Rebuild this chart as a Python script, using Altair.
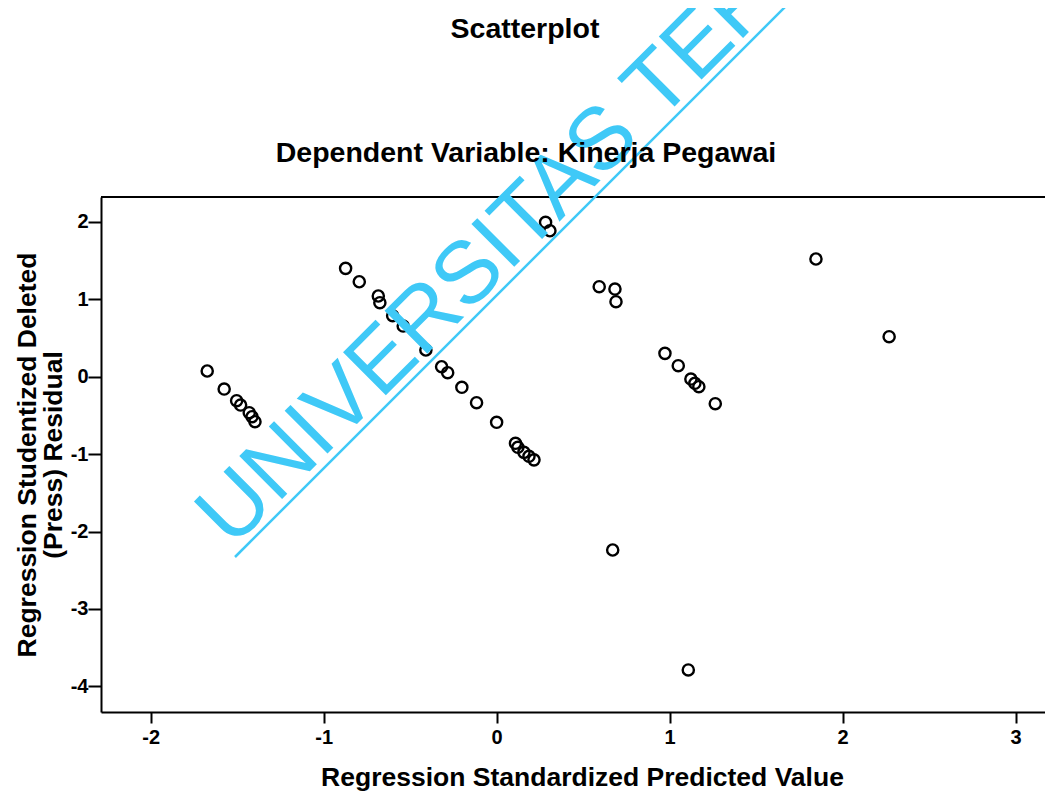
import altair as alt
import pandas as pd

# Regression Standardized Predicted Value
pred = [
    -1.673, -1.575, -1.503, -1.480, -1.430, -1.414, -1.397,
    -0.873, -0.794, -0.684, -0.675, -0.601, -0.540,
    -0.409, -0.318, -0.283, -0.201, -0.116, 0.000,
    0.109, 0.123, 0.158, 0.187, 0.216,
    0.283, 0.308,
    0.593, 0.684, 0.690,
    0.671,
    0.973, 1.050, 1.123, 1.146, 1.169, 1.264,
    1.108,
    1.846,
    2.269,
]
# Regression Studentized Deleted (Press) Residual
resid = [
    0.074, -0.159, -0.310, -0.366, -0.465, -0.517, -0.581,
    1.400, 1.227, 1.043, 0.956, 0.788, 0.655,
    0.345, 0.129, 0.052, -0.137, -0.336, -0.589,
    -0.860, -0.912, -0.977, -1.028, -1.074,
    1.995, 1.886,
    1.163, 1.133, 0.969,
    -2.239,
    0.302, 0.142, -0.030, -0.085, -0.129, -0.349,
    -3.789,
    1.521,
    0.517,
]
x_ticks = [-2, -1, 0, 1, 2, 3]
y_ticks = [-4, -3, -2, -1, 0, 1, 2]

title_text = "Scatterplot"
subtitle_text = "Dependent Variable: Kinerja Pegawai"
x_title = "Regression Standardized Predicted Value"
y_title = ["Regression Studentized Deleted", "(Press) Residual"]
watermark_text = "UNIVERSITAS TERBUKA"

df = pd.DataFrame({"pred": pred, "resid": resid})

W, H = 944, 515
FONT = "Liberation Sans"

points = alt.Chart(df).mark_point(
    shape="circle", filled=False, stroke="black", strokeWidth=2.4, size=125, opacity=1
).encode(
    x=alt.X("pred:Q",
            scale=alt.Scale(domain=[-2.287, 3.170], nice=False, zero=False),
            axis=alt.Axis(values=x_ticks, labelExpr="toString(datum.value)", grid=False,
                          domainColor="black", domainWidth=2,
                          tickColor="black", tickWidth=2, tickSize=11,
                          labelFont=FONT, labelFontWeight="bold", labelFontSize=20,
                          labelColor="black", labelPadding=4,
                          title=x_title, titleFont=FONT, titleFontWeight="bold",
                          titleFontSize=26.5, titleColor="black",
                          titleX=481, titleY=73, titleAlign="center",
                          titleBaseline="alphabetic")),
    y=alt.Y("resid:Q",
            scale=alt.Scale(domain=[-4.332, 2.322], nice=False, zero=False),
            axis=alt.Axis(values=y_ticks, labelExpr="toString(datum.value)", grid=False,
                          domainColor="black", domainWidth=2,
                          tickColor="black", tickWidth=2, tickSize=13,
                          labelFont=FONT, labelFontWeight="bold", labelFontSize=20,
                          labelColor="black", labelPadding=0,
                          title=y_title, titleFont=FONT, titleFontWeight="bold",
                          titleFontSize=26.5, titleColor="black",
                          titleAngle=270, titleX=-74, titleY=H / 2,
                          titleAlign="center", titleBaseline="middle",
                          titleLineHeight=26)),
)

top_border = alt.Chart(df.head(1)).mark_rule(color="black", strokeWidth=2).encode(
    x=alt.value(0), x2=alt.value(W), y=alt.value(0)
)

title1 = alt.Chart(df.head(1)).mark_text(
    text=title_text, font=FONT, fontWeight="bold", fontSize=28.5, color="black",
    align="center", baseline="alphabetic"
).encode(x=alt.value(424), y=alt.value(-159))

title2 = alt.Chart(df.head(1)).mark_text(
    text=subtitle_text, font=FONT, fontWeight="bold", fontSize=28.5, color="black",
    align="center", baseline="alphabetic"
).encode(x=alt.value(425), y=alt.value(-35))

wm_color = "#3FC9F7"
watermark = alt.Chart(df.head(1)).mark_text(
    text=watermark_text, font=FONT, fontSize=88, color=wm_color,
    angle=315, align="left", baseline="alphabetic"
).encode(x=alt.value(131), y=alt.value(352))

underline = alt.Chart(df.head(1)).mark_rule(color=wm_color, strokeWidth=2.5).encode(
    x=alt.value(134), y=alt.value(360), x2=alt.value(734), y2=alt.value(-240)
)

chart = alt.layer(points, top_border, watermark, underline, title1, title2).properties(
    width=W, height=H,
    autosize=alt.AutoSizeParams(type="none"),
    padding={"left": 93, "top": 189, "right": 0, "bottom": 86},
    background="white",
).configure_view(stroke=None)

chart.save("out.html", embed_options={"renderer": "svg", "actions": False})
